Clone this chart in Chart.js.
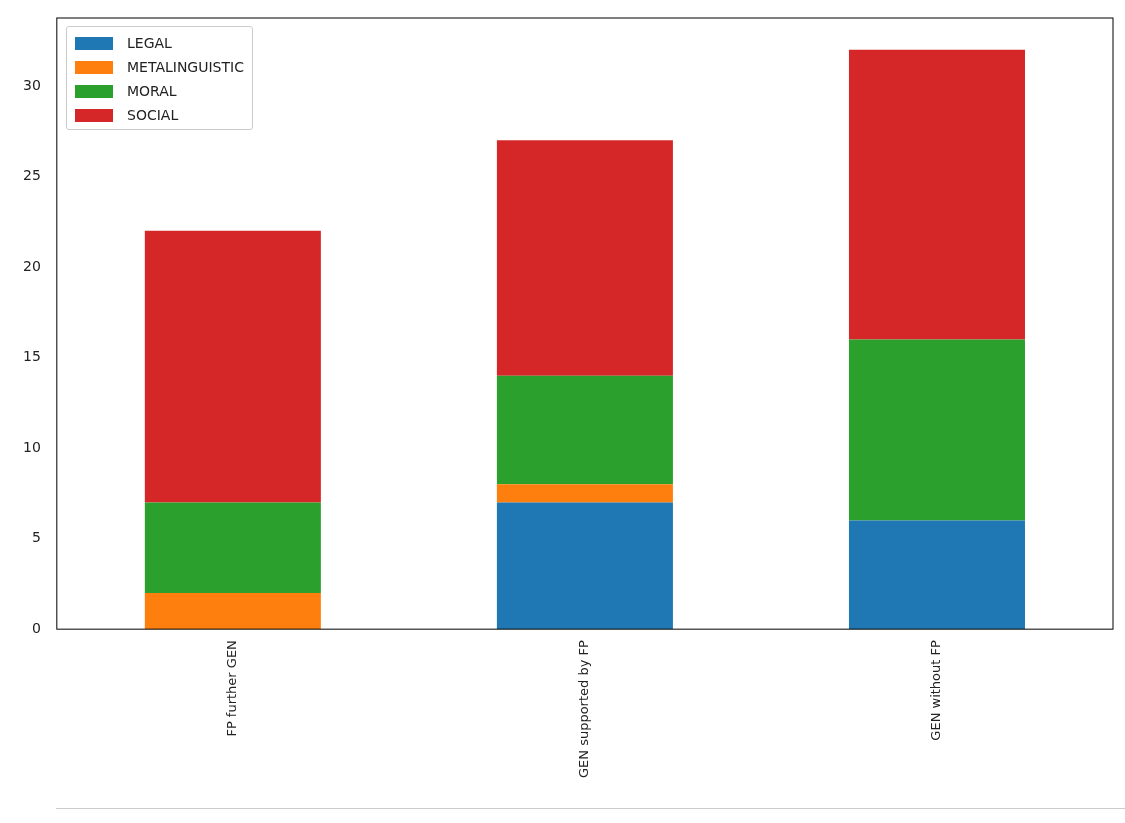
<!DOCTYPE html>
<html>
<head>
<meta charset="utf-8">
<script src="https://cdn.jsdelivr.net/npm/chart.js@4/dist/chart.umd.min.js"></script>
<style>
  body { margin: 0; background: #fff; font-family: "DejaVu Sans", sans-serif; }
  #wrap { position: relative; width: 1125px; height: 823px; }
  #legend { position: absolute; left: 66px; top: 26px; border: 1px solid #ccc; border-radius: 3px;
            padding: 4px 8px 2px 8px; background: rgba(255,255,255,0.8); font-size: 14px; color: #222; }
  .item { display: flex; align-items: center; height: 24px; }
  .sw { width: 38px; height: 13px; margin-right: 14px; }
  #rule { position: absolute; left: 56px; right: 0; top: 808px; border-top: 1px solid #ccc; }
</style>
</head>
<body>
<div id="wrap">
  <canvas id="myChart" width="1125" height="823"></canvas>
  <div id="legend"></div>
  <div id="rule"></div>
</div>
<script>
'use strict';

// Data

let categories = ['FP further GEN', 'GEN supported by FP', 'GEN without FP'];
let legalVals = [0, 7, 6];
let metaVals = [2, 1, 0];
let moralVals = [5, 6, 10];
let socialVals = [15, 13, 16];
let yTicks = [0, 5, 10, 15, 20, 25, 30];

let seriesNames = ['LEGAL', 'METALINGUISTIC', 'MORAL', 'SOCIAL'];
let seriesColors = ['#1f77b4', '#ff7f0e', '#2ca02c', '#d62728'];
let seriesData = [legalVals, metaVals, moralVals, socialVals];

// Legend

let legend = document.getElementById('legend');
for (let i = 0; i < seriesNames.length; i++) {
  let div = document.createElement('div');
  div.className = 'item';
  div.innerHTML = '<span class="sw" style="background:' + seriesColors[i] + '"></span>' + seriesNames[i];
  legend.appendChild(div);
}

// Frame around plot area

const frame = {
  id: 'frame',
  afterDraw(chart) {
    const a = chart.chartArea;
    const c = chart.ctx;
    c.save();
    c.strokeStyle = '#000';
    c.lineWidth = 1;
    c.strokeRect(a.left, a.top, a.right - a.left, a.bottom - a.top);
    c.restore();
  }
};

// Render chart

let datasets = [];
for (let i = 0; i < seriesNames.length; i++) {
  datasets.push({
    label: seriesNames[i],
    data: seriesData[i],
    backgroundColor: seriesColors[i],
    barPercentage: 0.5,
    categoryPercentage: 1
  });
}

const ctx = document.getElementById('myChart').getContext('2d');
const myChart = new Chart(ctx, {
  type: 'bar',
  data: { labels: categories, datasets: datasets },
  plugins: [frame],
  options: {
    responsive: false,
    animation: false,
    layout: { padding: { top: 18, right: 12, bottom: 42, left: 15 } },
    plugins: { legend: { display: false }, tooltip: { enabled: false } },
    scales: {
      x: {
        stacked: true,
        grid: { display: false },
        border: { display: false },
        ticks: { maxRotation: 90, minRotation: 90, color: '#222', font: { family: 'DejaVu Sans', size: 13 } }
      },
      y: {
        stacked: true,
        min: 0,
        max: 33.75,
        afterBuildTicks(axis) { axis.ticks = yTicks.map(v => ({ value: v })); },
        grid: { display: false },
        border: { display: false },
        ticks: { color: '#222', padding: 8, font: { family: 'DejaVu Sans', size: 14 } }
      }
    }
  }
});
</script>
</body>
</html>
